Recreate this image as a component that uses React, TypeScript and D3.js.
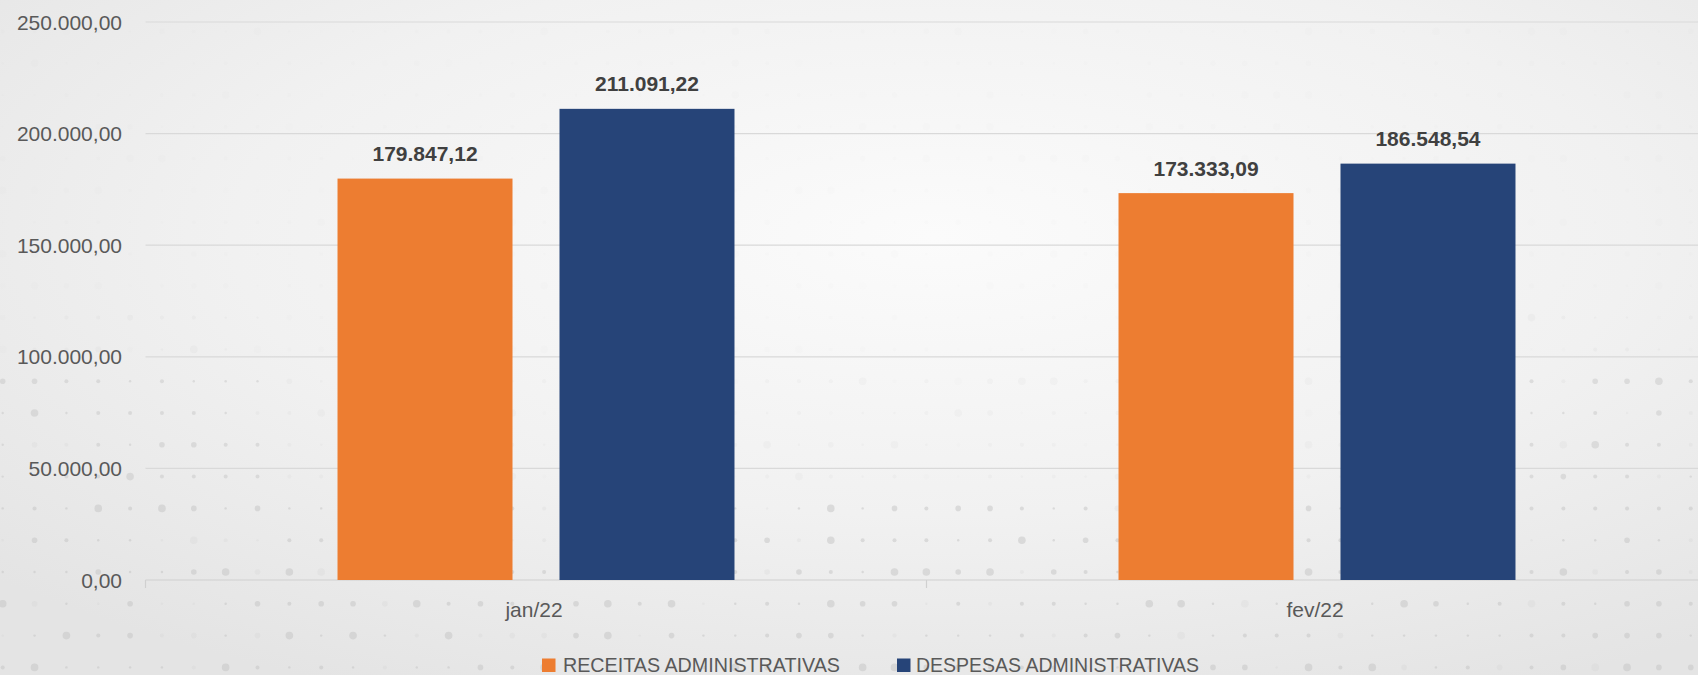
import React from "react";
import * as d3 from "d3";

const categories = ["jan/22", "fev/22"];
const seriesNames = ["RECEITAS ADMINISTRATIVAS", "DESPESAS ADMINISTRATIVAS"];
const receitas = [179847.12, 173333.09];
const despesas = [211091.22, 186548.54];
const yTicks = [0, 50000, 100000, 150000, 200000, 250000];
const seriesColors = ["#ED7D31", "#264478"];

const W = 1698;
const H = 675;

const locale = d3.formatLocale({ decimal: ",", thousands: ".", grouping: [3], currency: ["R$", ""] });
const fmt = locale.format(",.2f");

function hash(i: number, j: number) {
  const s = Math.sin(i * 12.9898 + j * 78.233) * 43758.5453;
  return s - Math.floor(s);
}

export default function App() {
  const plotLeft = 145.5;
  const bandW = 781;
  const x0 = d3.scaleBand<string>().domain(categories).range([plotLeft, plotLeft + bandW * categories.length]).paddingInner(0).paddingOuter(0);
  const x1 = d3.scaleBand<string>().domain(seriesNames).range([0, bandW]).paddingInner(0.2117).paddingOuter(0.865);
  const y = d3.scaleLinear().domain([0, 250000]).range([580, 22]);
  const values = [receitas, despesas];

  const dots: { x: number; y: number; r: number; o: number }[] = [];
  for (let j = -12; j < 9; j++) {
    const cy = 413 + j * 31.8;
    for (let i = 0; i < 54; i++) {
      const cx = 2.7 + i * 31.85;
      const h = hash(i, j);
      const r = h < 0.3 ? 1.2 : h < 0.65 ? 2 : h < 0.85 ? 2.8 : 3.8;
      const edge = cx < 260 || cx > 1480;
      let o = 0;
      if (cy > 490) o = 0.5;
      else if (cy > 370) o = edge ? 0.45 : 0.1;
      else if (cy > 290) o = edge ? 0.12 : 0.04;
      else o = 0.04;
      if (hash(j + 3, i + 7) < 0.2) o *= 0.3;
      dots.push({ x: cx, y: cy, r, o });
    }
  }

  const boundaries = [plotLeft, ...categories.map((c) => (x0(c) as number) + bandW)];

  return (
    <svg width={W} height={H} style={{ position: "absolute", left: 0, top: 0, display: "block" }} fontFamily="'Liberation Sans', Arial, sans-serif">
      <defs>
        <radialGradient id="bg" cx="0.55" cy="0.35" r="0.75">
          <stop offset="0" stopColor="#fbfbfb" />
          <stop offset="0.55" stopColor="#f1f1f1" />
          <stop offset="1" stopColor="#e4e4e4" />
        </radialGradient>
      </defs>
      <rect x={0} y={0} width={W} height={H} fill="url(#bg)" />
      <g>
        {dots.map((d, k) => (
          <circle key={k} cx={d.x} cy={d.y} r={d.r} fill="#c4c4c4" opacity={d.o} />
        ))}
      </g>
      {/* gridlines */}
      <g>
        {yTicks.map((t) => (
          <line key={t} x1={plotLeft} x2={W} y1={y(t)} y2={y(t)} stroke={t === 0 ? "#d0d0d0" : "#d9d9d9"} strokeWidth={1.2} />
        ))}
        {boundaries.map((b, k) => (
          <line key={k} x1={b} x2={b} y1={y(0)} y2={y(0) + 8} stroke="#d0d0d0" strokeWidth={1.2} />
        ))}
      </g>
      {/* y tick labels */}
      <g>
        {yTicks.map((t) => (
          <text key={t} x={122} y={y(t)} dy="0.36em" textAnchor="end" fontSize={21} fill="#595959">
            {fmt(t)}
          </text>
        ))}
      </g>
      {/* bars */}
      <g>
        {categories.map((c, ci) =>
          seriesNames.map((s, si) => {
            const bx = (x0(c) as number) + (x1(s) as number);
            const v = values[si][ci];
            return (
              <g key={c + s}>
                <rect x={bx} y={y(v)} width={x1.bandwidth()} height={y(0) - y(v)} fill={seriesColors[si]} />
                <text x={bx + x1.bandwidth() / 2} y={y(v) - 17.5} textAnchor="middle" fontSize={21} fontWeight="bold" fill="#404040">
                  {fmt(v)}
                </text>
              </g>
            );
          })
        )}
      </g>
      {/* category labels */}
      <g>
        {categories.map((c) => (
          <text key={c} x={(x0(c) as number) + bandW / 2 - 2} y={617} textAnchor="middle" fontSize={21} fill="#595959">
            {c}
          </text>
        ))}
      </g>
      {/* legend */}
      <g>
        <rect x={542} y={658.5} width={13.5} height={13.5} fill={seriesColors[0]} />
        <text x={563} y={672} fontSize={19.5} fill="#595959" textLength={277} lengthAdjust="spacingAndGlyphs">
          {seriesNames[0]}
        </text>
        <rect x={897} y={658.5} width={13.5} height={13.5} fill={seriesColors[1]} />
        <text x={916} y={672} fontSize={19.5} fill="#595959" textLength={283} lengthAdjust="spacingAndGlyphs">
          {seriesNames[1]}
        </text>
      </g>
    </svg>
  );
}
